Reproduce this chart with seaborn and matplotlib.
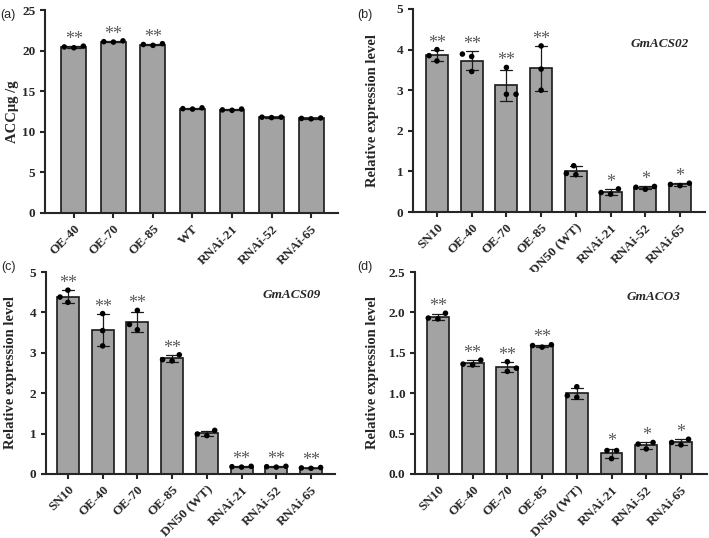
import numpy as np
import pandas as pd
import matplotlib
matplotlib.use('Agg')
import matplotlib.pyplot as plt
import seaborn as sns

# 株系名称
lines_a = ['OE-40', 'OE-70', 'OE-85', 'WT', 'RNAi-21', 'RNAi-52', 'RNAi-65']
lines_bcd = ['SN10', 'OE-40', 'OE-70', 'OE-85', 'DN50 (WT)', 'RNAi-21', 'RNAi-52', 'RNAi-65']

# 三个生物学重复
acc_a = [[20.35, 20.55, 20.45], [21.05, 21.2, 21.1], [20.65, 20.85, 20.75],
         [12.8, 12.95, 12.85], [12.65, 12.8, 12.7], [11.75, 11.8, 11.8], [11.6, 11.7, 11.65]]
acs02_b = [[3.72, 4.0, 3.85], [3.83, 3.89, 3.46], [2.9, 3.56, 2.9], [3.0, 4.09, 3.52],
           [0.92, 1.14, 0.95], [0.44, 0.57, 0.48], [0.56, 0.63, 0.61], [0.65, 0.71, 0.68]]
acs09_c = [[4.55, 4.38, 4.25], [3.97, 3.55, 3.17], [4.05, 3.7, 3.57], [2.95, 2.8, 2.83],
           [1.08, 0.95, 0.99], [0.17, 0.19, 0.18], [0.17, 0.19, 0.18], [0.14, 0.16, 0.15]]
aco3_d = [[1.92, 1.99, 1.93], [1.35, 1.41, 1.36], [1.27, 1.39, 1.31], [1.57, 1.60, 1.59],
          [0.95, 1.08, 0.97], [0.19, 0.29, 0.29], [0.31, 0.37, 0.39], [0.36, 0.43, 0.39]]

stars_a = ['**', '**', '**', '', '', '', '']
stars_b = ['**', '**', '**', '**', '', '*', '*', '*']
stars_c = ['**', '**', '**', '**', '', '**', '**', '**']
stars_d = ['**', '**', '**', '**', '', '*', '*', '*']

sns.set_theme(style='ticks')
plt.rcParams['font.family'] = ['Liberation Serif', 'DejaVu Serif']
plt.rcParams['font.weight'] = 'bold'
plt.rcParams['axes.linewidth'] = 1.5
plt.rcParams['xtick.major.width'] = 1.5
plt.rcParams['ytick.major.width'] = 1.5
plt.rcParams['xtick.major.size'] = 3.5
plt.rcParams['ytick.major.size'] = 3.5


def to_long(names, reps):
    rows = []
    for n, vals in zip(names, reps):
        for v in vals:
            rows.append({'line': n, 'value': v})
    return pd.DataFrame(rows)


def draw_panel(ax, names, reps, stars, ylabel, yticks, ytl, ylab_x,
               gene=None, gene_xy=(0.84, 0.85)):
    df = to_long(names, reps)
    sns.barplot(data=df, x='line', y='value', order=names, errorbar='sd', capsize=0.35,
                width=0.63, color='#a3a3a3', edgecolor='#1a1a1a', linewidth=1.2,
                err_kws={'linewidth': 0.9, 'color': '#1a1a1a'}, ax=ax)
    n0 = len(ax.collections)
    sns.swarmplot(data=df, x='line', y='value', order=names, color='black', size=4,
                  ax=ax, zorder=5, warn_thresh=1)
    # 不可见的描边只用来把点分得更开 (类似 GraphPad)
    for c in ax.collections[n0:]:
        c.set_linewidth(2.6)
        c.set_edgecolor('none')
    for i, (vals, s) in enumerate(zip(reps, stars)):
        if not s:
            continue
        top = max(np.mean(vals) + np.std(vals, ddof=1), max(vals))
        ax.annotate(s, (i, top), xytext=(0, 1.5), textcoords='offset points',
                    ha='center', va='baseline', fontsize=13, color='#5a5a5a',
                    fontweight='normal')
    ax.set_ylim(yticks[0], yticks[-1])
    ax.set_yticks(yticks)
    ax.set_yticklabels(ytl, fontsize=9.5, fontweight='bold')
    ax.set_xticks(range(len(names)))
    ax.set_xticklabels(names, rotation=45, ha='right', rotation_mode='anchor',
                       fontsize=9.5, fontweight='bold')
    ax.set_xlabel('')
    ax.set_ylabel(ylabel, fontsize=10.5, fontweight='bold')
    ax.yaxis.set_label_coords(ylab_x, 0.5)
    sns.despine(ax=ax)
    if gene:
        ax.text(gene_xy[0], gene_xy[1], gene, transform=ax.transAxes, ha='center',
                va='center', fontsize=9.5, fontweight='bold', style='italic')


fig = plt.figure(figsize=(7.09, 5.38), dpi=100)
ax_a = fig.add_axes([0.0635, 0.6041, 0.4132, 0.3773])
ax_b = fig.add_axes([0.5825, 0.6059, 0.4119, 0.3774])
ax_c = fig.add_axes([0.0649, 0.1190, 0.4076, 0.3754])
ax_d = fig.add_axes([0.5853, 0.1190, 0.4119, 0.3754])

draw_panel(ax_a, lines_a, acc_a, stars_a, 'ACCμg /g',
           [0, 5, 10, 15, 20, 25], ['0', '5', '10', '15', '20', '25'], -0.089)
ax_a.set_xlim(-0.73, 6.68)

draw_panel(ax_b, lines_bcd, acs02_b, stars_b, 'Relative expression level',
           [0, 1, 2, 3, 4, 5], ['0', '1', '2', '3', '4', '5'], -0.116,
           'GmACS02', (0.846, 0.83))
ax_b.set_xlim(-0.69, 7.72)

draw_panel(ax_c, lines_bcd, acs09_c, stars_c, 'Relative expression level',
           [0, 1, 2, 3, 4, 5], ['0', '1', '2', '3', '4', '5'], -0.100,
           'GmACS09', (0.85, 0.886))
ax_c.set_xlim(-0.63, 7.69)

draw_panel(ax_d, lines_bcd, aco3_d, stars_d, 'Relative expression level',
           [0, 0.5, 1.0, 1.5, 2.0, 2.5], ['0.0', '0.5', '1.0', '1.5', '2.0', '2.5'],
           -0.123, 'GmACO3', (0.815, 0.876))
ax_d.set_xlim(-0.66, 7.75)

for lab, (x, y) in zip(['(a)', '(b)', '(c)', '(d)'],
                       [(8, 15), (365, 15), (8, 267), (365, 267)]):
    fig.text(x / 709, 1 - y / 538, lab, ha='center', va='center', fontsize=9,
             family=['Liberation Sans', 'DejaVu Sans'], fontweight='normal')

fig.savefig('out.png', dpi=100)
